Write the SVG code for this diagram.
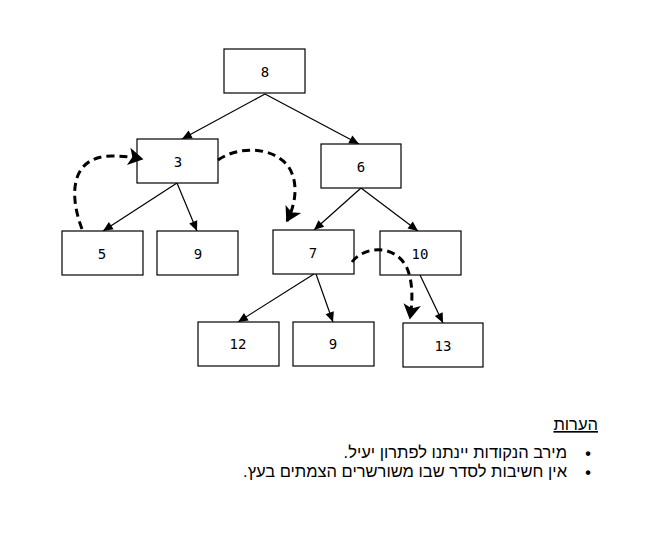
<svg xmlns="http://www.w3.org/2000/svg" width="667" height="543" viewBox="0 0 667 543">
<style>
.box{fill:#fff;stroke:#000;stroke-width:1.2}
.num{font-family:"DejaVu Sans Mono","Liberation Mono",monospace;font-size:14px;text-anchor:middle;dominant-baseline:central;fill:#000}
.edge{stroke:#000;stroke-width:1.2;fill:none;marker-end:url(#ah)}
.dash{stroke:#000;stroke-width:3;fill:none;stroke-dasharray:8,5;marker-end:url(#dh)}
.note{font-family:"Liberation Sans","DejaVu Sans",sans-serif;font-size:16.5px;fill:#000}
.bul{font-family:"Liberation Sans","DejaVu Sans",sans-serif;font-size:16px;font-weight:bold;fill:#000;text-anchor:middle}
</style>
<defs>
<marker id="ah" markerUnits="userSpaceOnUse" markerWidth="12" markerHeight="12" viewBox="-10 -5 11 10" refX="0" refY="0" orient="auto">
<path d="M-9,-4 L0,0 L-9,4 Z" fill="#000"/>
</marker>
<marker id="dh" markerUnits="userSpaceOnUse" markerWidth="20" markerHeight="20" viewBox="-15 -10 17 20" refX="0" refY="0" orient="auto">
<path d="M-12,-7 L0,0 L-12,7 L-9,0 Z" fill="#000" stroke="#000" stroke-width="1.5" stroke-linejoin="miter"/>
</marker>
</defs>
<rect width="667" height="543" fill="#fff"/>
<g id="connectors">
<line class="edge" x1="265" y1="94" x2="182" y2="139"/>
<line class="edge" x1="265" y1="94" x2="359" y2="144"/>
<line class="edge" x1="177" y1="183" x2="103" y2="231"/>
<line class="edge" x1="177" y1="183" x2="197" y2="231"/>
<line class="edge" x1="361" y1="188" x2="314" y2="230"/>
<line class="edge" x1="361" y1="188" x2="418" y2="231"/>
<line class="edge" x1="314" y1="274" x2="238" y2="322"/>
<line class="edge" x1="316" y1="274" x2="333" y2="322"/>
<line class="edge" x1="420" y1="275" x2="443" y2="323"/>
</g>
<g id="n8"><rect class="box" x="224" y="49" width="81" height="44"/><text class="num" x="265" y="72">8</text></g>
<g id="n3"><rect class="box" x="137" y="139" width="81" height="44"/><text class="num" x="178" y="162">3</text></g>
<g id="n6"><rect class="box" x="321" y="144" width="80" height="44"/><text class="num" x="361" y="167">6</text></g>
<g id="n5"><rect class="box" x="62" y="231" width="81" height="44"/><text class="num" x="102" y="254">5</text></g>
<g id="n9a"><rect class="box" x="157" y="231" width="81" height="44"/><text class="num" x="198" y="254">9</text></g>
<g id="n7"><rect class="box" x="273" y="230" width="81" height="44"/><text class="num" x="313" y="253">7</text></g>
<g id="n10"><rect class="box" x="380" y="231" width="81" height="44"/><text class="num" x="420" y="254">10</text></g>
<g id="n12"><rect class="box" x="198" y="322" width="81" height="44"/><text class="num" x="238" y="344">12</text></g>
<g id="n9b"><rect class="box" x="293" y="322" width="81" height="44"/><text class="num" x="333" y="344">9</text></g>
<g id="n13"><rect class="box" x="403" y="323" width="80" height="44"/><text class="num" x="443" y="346">13</text></g>
<g id="dashed-connectors">
<path class="dash" d="M82,229 C68,192 72,156 112,156 C124,156 132,157 142,159"/>
<path class="dash" d="M218,160 C238,146 272,146 288,166 C298,180 297,202 287,221"/>
<path class="dash" d="M352,262 C362,248 392,242 406,266 C413,280 413,300 410,318"/>
</g>
<g id="notes">
<text class="note" x="598" y="430" direction="rtl" text-anchor="start" text-decoration="underline">הערות</text>
<text class="bul" x="588" y="459">•</text>
<text class="note" x="567" y="458" direction="rtl" text-anchor="start">מירב הנקודות יינתנו לפתרון יעיל.</text>
<text class="bul" x="588" y="478">•</text>
<text class="note" x="567" y="477" direction="rtl" text-anchor="start">אין חשיבות לסדר שבו משורשרים הצמתים בעץ.</text>
</g>
</svg>
